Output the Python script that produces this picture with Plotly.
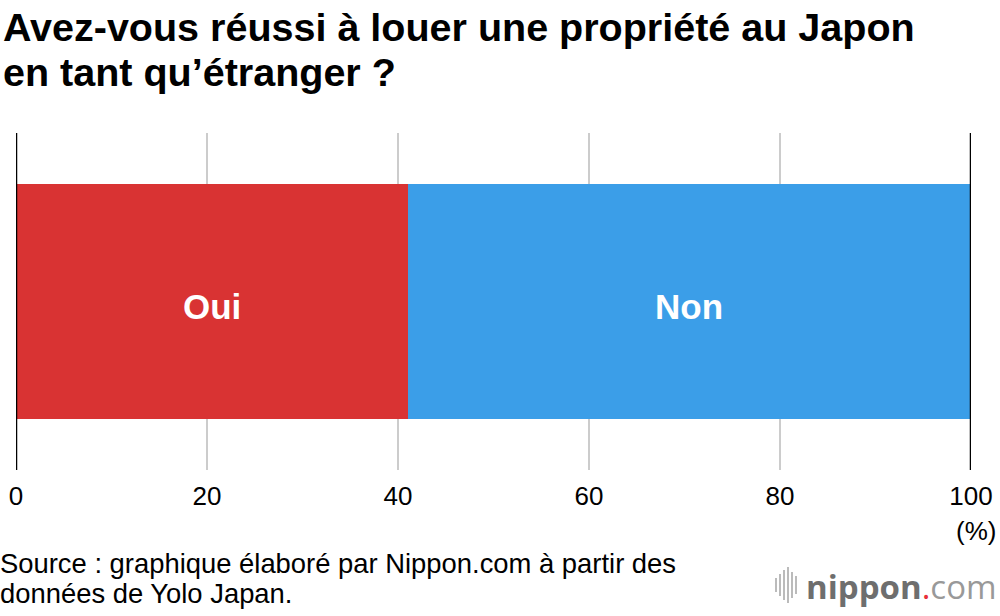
import plotly.graph_objects as go

categories = ["Oui", "Non"]
values = [41, 59]
colors = ["#D93333", "#3B9EE8"]
tick_vals = [0, 20, 40, 60, 80, 100]
tick_text = ["0", "20", "40", "60", "80", "100"]
title_lines = ["Avez-vous réussi à louer une propriété au Japon", "en tant qu’étranger ?"]
source_lines = ["Source : graphique élaboré par Nippon.com à partir des", "données de Yolo Japan."]

W, H = 1000, 616
L, R, T, B = 16, 29, 133, 146
pw, ph = W - L - R, H - T - B
FONT = "Liberation Sans, Arial, Helvetica, sans-serif"

def px(x):
    return (x - L) / pw

def py(y):
    return (H - B - y) / ph

fig = go.Figure()
for cat, val, col in zip(categories, values, colors):
    fig.add_trace(go.Bar(
        y=[0], x=[val], name=cat, orientation="h",
        marker=dict(color=col, line=dict(width=0)),
        width=0.7, hoverinfo="skip",
    ))

annotations = []
start = 0
for cat, val in zip(categories, values):
    annotations.append(dict(text=f"<b>{cat}</b>", xref="x", yref="y", x=start + val / 2, y=0,
                            xanchor="center", yanchor="middle", yshift=-5, showarrow=False,
                            font=dict(size=35, color="white", family=FONT)))
    start += val

shapes = []
for xv in [0, 100]:
    shapes.append(dict(type="line", xref="x", yref="paper", x0=xv, x1=xv, y0=0, y1=1,
                       line=dict(color="black", width=2.5), layer="above"))

# logo icon bars
bar_specs = [(776, 578, 592), (780, 574, 596), (784, 570, 600), (788, 567, 603), (792, 572, 598), (796, 576, 594)]
for xb, y0, y1 in bar_specs:
    shapes.append(dict(type="line", xref="paper", yref="paper",
                       x0=px(xb), x1=px(xb), y0=py(y0), y1=py(y1),
                       line=dict(color="#BBBBBB", width=2)))

annotations += [
    dict(text="(%)", xref="paper", yref="paper", x=px(998), y=py(531), xanchor="right", yanchor="middle",
         showarrow=False, font=dict(size=26, color="black")),
    dict(text="<b>nippon</b><span style='color:#E8303A'>.</span><span style='color:#999999'>com</span>",
         xref="paper", yref="paper", x=px(999), y=py(586), xanchor="right", yanchor="middle",
         showarrow=False, font=dict(size=33, color="#6E6E6E", family="Open Sans, Arial, sans-serif")),
]
for i, line in enumerate(title_lines):
    annotations.append(dict(text=f"<b>{line}</b>", xref="paper", yref="paper", x=px(1), y=py(27 + 45 * i),
                            xanchor="left", yanchor="middle", showarrow=False,
                            font=dict(size=39.5, color="black")))
for i, line in enumerate(source_lines):
    annotations.append(dict(text=line, xref="paper", yref="paper", x=px(-2), y=py(563 + 30 * i),
                            xanchor="left", yanchor="middle", showarrow=False,
                            font=dict(size=27.4, color="black")))

fig.update_layout(
    width=W, height=H, autosize=False,
    barmode="stack", bargap=0,
    showlegend=False,
    plot_bgcolor="white", paper_bgcolor="white",
    margin=dict(l=L, r=R, t=T, b=B, pad=0, autoexpand=False),
    font=dict(family=FONT, size=20, color="black"),
    xaxis=dict(range=[0, 100], tickvals=tick_vals, ticktext=tick_text, showgrid=True,
               gridcolor="#CCCCCC", gridwidth=2, zeroline=False, showline=False,
               ticks="outside", ticklen=3, tickcolor="rgba(0,0,0,0)", automargin=False,
               tickfont=dict(size=26, color="black"), fixedrange=True),
    yaxis=dict(showticklabels=False, showgrid=False, zeroline=False, range=[-0.5, 0.5], automargin=False),
    shapes=shapes,
    annotations=annotations,
)

fig.write_html("out.html", config={"displayModeBar": False},
               post_script="document.body.style.margin='0';document.body.style.overflow='hidden';")
